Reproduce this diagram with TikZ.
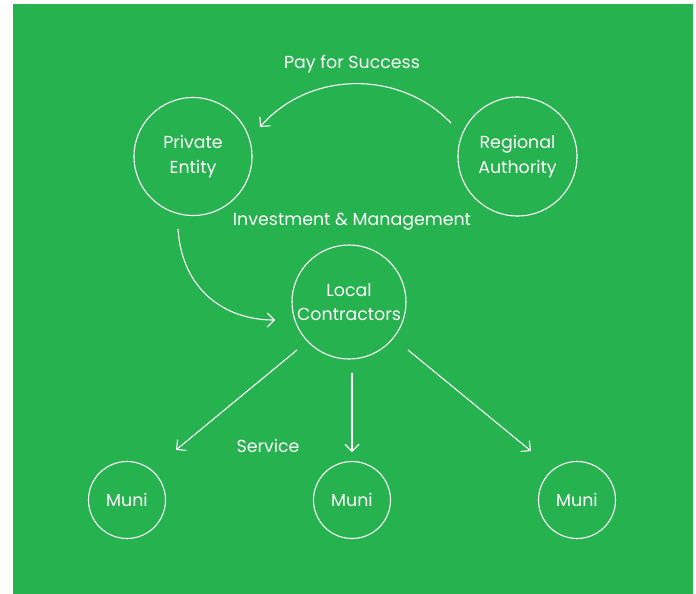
\documentclass[tikz,border=0pt]{standalone}
\usepackage{fontspec}
\setmainfont{Poppins}
\usetikzlibrary{arrows.meta}
\definecolor{bggreen}{RGB}{38,178,78}
\begin{document}
\begin{tikzpicture}[x=1pt,y=-1pt,
  circ/.style={draw=white,line width=1.1pt,circle,inner sep=0pt,text=white,align=center,font=\fontsize{17.4}{24.5}\selectfont},
  lbl/.style={text=white,font=\fontsize{17.4}{20}\selectfont,inner sep=0pt},
  arr/.style={draw=white,line width=1.1pt,-{Straight Barb[length=7pt,width=14pt,line width=1.1pt]}}]
\useasboundingbox (0,0) rectangle (696,594);
\fill[bggreen] (13,4) rectangle (693,594);
\node[circ,minimum size=118pt] (pe) at (193,156.5) {Private\\Entity};
\node[circ,minimum size=119pt] (ra) at (517.5,156.5) {Regional\\Authority};
\node[circ,minimum size=114pt] (lc) at (349,302) {Local\\Contractors};
\node[circ,minimum size=77pt] (m1) at (127,500) {Muni};
\node[circ,minimum size=77pt] (m2) at (352,500) {Muni};
\node[circ,minimum size=77pt] (m3) at (577,500) {Muni};
\node[lbl] (pfs) at (352,64.5) {Pay for Success};
\node[lbl] (im) at (352,221.5) {Investment \& Management};
\node[lbl] (sv) at (268,445.5) {Service};
\coordinate (a1s) at (451,123);
\coordinate (a1e) at (260,127);
\draw[arr] (a1s) .. controls (400,70) and (310,70) .. (a1e);
\coordinate (a2s) at (178,229);
\coordinate (a2e) at (275,320);
\draw[arr] (a2s) .. controls (182,290) and (225,320) .. (a2e);
\coordinate (b1s) at (297,350);
\coordinate (b1e) at (176,450);
\coordinate (b2s) at (352,373);
\coordinate (b2e) at (352,452);
\coordinate (b3s) at (408,350);
\coordinate (b3e) at (531,451);
\draw[arr] (b1s) -- (b1e);
\draw[arr] (b2s) -- (b2e);
\draw[arr] (b3s) -- (b3e);
\end{tikzpicture}
\end{document}
